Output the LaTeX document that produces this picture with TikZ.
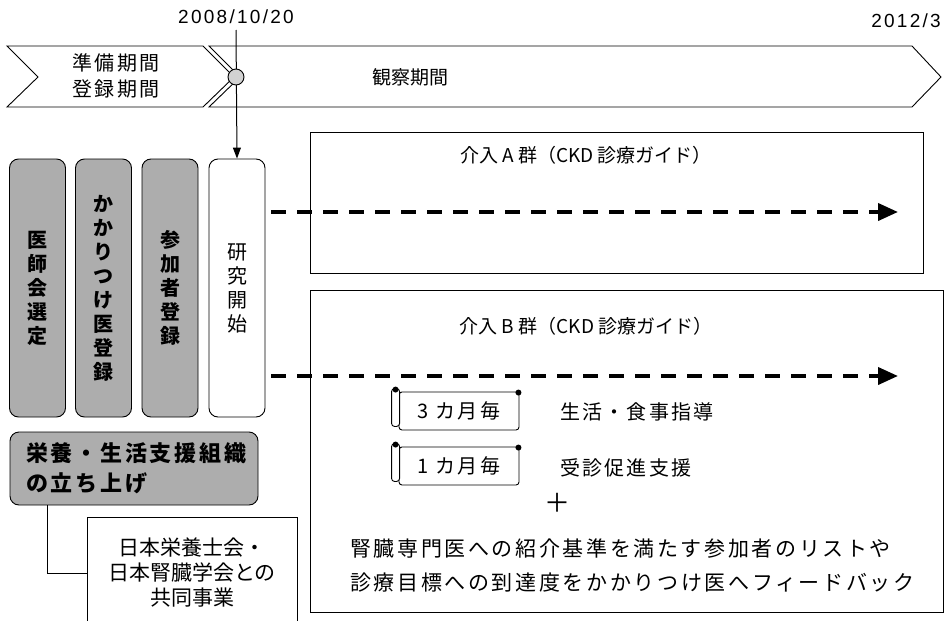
\documentclass[tikz,border=0pt]{standalone}
\usepackage{fontspec}
\setmainfont{Liberation Sans}
\newfontfamily\lat[LetterSpace=12]{Liberation Sans}
\newfontfamily\jp{Noto Sans CJK JP}
\newfontfamily\jpl[LetterSpace=12.5]{Noto Sans CJK JP}
\newfontfamily\jps[LetterSpace=11]{Noto Sans CJK JP}
\usetikzlibrary{arrows.meta,calc}
\definecolor{greyfill}{gray}{0.68}
\tikzset{
  band/.style={draw=black, line width=0.9pt, fill=white},
  vbox/.style={draw=black, line width=0.9pt, rounded corners=9pt, minimum width=56pt, minimum height=258pt, inner sep=0pt, align=center},
  greybox/.style={vbox, fill=greyfill, font=\jp\bfseries\fontsize{20}{24}\selectfont},
  whitebox/.style={vbox, fill=white, font=\jp\fontsize{20}{24}\selectfont},
  bigbox/.style={draw=black, line width=1pt, fill=none},
  dasharrow/.style={line width=3.8pt, dash pattern=on 15pt off 11pt, -{Triangle[length=20pt,width=17pt]}},
  scrollbox/.style={draw=black, line width=0.9pt, rounded corners=3pt, minimum width=120pt, minimum height=38pt, inner sep=0pt, font=\jps\fontsize{20}{22}\selectfont, fill=white},
  jptext/.style={font=\jp\fontsize{19}{22}\selectfont, inner sep=0pt},
}
\newcommand{\scrolldeco}[1]{%
  \draw[line width=0.9pt, fill=white, rounded corners=3pt] ($(#1.north west)+(-7,-3)$) rectangle ($(#1.south west)+(1,-4)$);
  \fill ($(#1.north west)+(-3,-2)$) circle (3pt);
  \fill ($(#1.north east)+(-1,1)$) circle (3pt);
}
\begin{document}
\begin{tikzpicture}[x=1pt,y=-1pt]
\useasboundingbox (0,0) rectangle (945,621);
% timeline bands
\draw[band] (209,46) -- (912,46) -- (941,77) -- (912,107) -- (209,107) -- (240,77) -- cycle;
\draw[band] (7,46) -- (203,46) -- (234,77) -- (203,107) -- (7,107) -- (38,77) -- cycle;
\node[font=\jps\fontsize{20}{26}\selectfont, align=center, inner sep=0pt] (prep) at (116,76) {準備期間\\登録期間};
\node[font=\jp\fontsize{19}{22}\selectfont, inner sep=0pt] (obs) at (410,77) {観察期間};
\node[font=\lat\fontsize{19}{20}\selectfont, inner sep=0pt] (d1) at (236,17) {2008/10/20};
\node[font=\lat\fontsize{19}{20}\selectfont, inner sep=0pt, anchor=east] (d2) at (941,21) {2012/3};
% vertical boxes
\node[greybox] (b1) at (37.5,288) {医\\師\\会\\選\\定};
\node[greybox] (b2) at (103.5,288) {か\\か\\り\\つ\\け\\医\\登\\録};
\node[greybox] (b3) at (170,288) {参\\加\\者\\登\\録};
\node[whitebox] (b4) at (237,288) {研\\究\\開\\始};
% start arrow
\coordinate (top) at (236,30);
\draw[line width=1pt, -{Triangle[length=11pt,width=8pt]}] (top) -- (b4.north);
\node[circle, draw=black, line width=0.9pt, fill=gray!35, minimum size=16pt, inner sep=0pt] (mark) at (236,77) {};
% group boxes
\node[bigbox, minimum width=613pt, minimum height=141pt, inner sep=0pt] (ga) at (616.5,202.5) {};
\node[bigbox, minimum width=633pt, minimum height=322pt, inner sep=0pt] (gb) at (626.5,451) {};
\node[jptext] (ta) at (586,155) {介入 A 群（CKD 診療ガイド）};
\node[jptext] (tb) at (586,326) {介入 B 群（CKD 診療ガイド）};
% dashed arrows
\coordinate (ea) at (898,212);
\coordinate (eb) at (898,376);
\draw[dasharrow] (b4.east |- ea) ++(6,0) -- (ea);
\draw[dasharrow] (b4.east |- eb) ++(6,0) -- (eb);
% scrolls
\node[scrollbox] (s1) at (459,411) {3 カ月毎};
\scrolldeco{s1}
\node[scrollbox] (s2) at (459,466) {1 カ月毎};
\scrolldeco{s2}
\node[font=\jps\fontsize{20}{22}\selectfont, inner sep=0pt, anchor=west] (l1) at (560,412) {生活・食事指導};
\node[font=\jps\fontsize{20}{22}\selectfont, inner sep=0pt, anchor=west] (l2) at (560,468) {受診促進支援};
\node[font=\jp\fontsize{26}{28}\selectfont, inner sep=0pt] (plus) at (557,503) {＋};
\node[font=\jpl\fontsize{21}{34}\selectfont, inner sep=0pt, align=left, anchor=west] (fb) at (350,565) {腎臓専門医への紹介基準を満たす参加者のリストや\\診療目標への到達度をかかりつけ医へフィードバック};
% bottom left
\node[draw=black, line width=0.9pt, fill=greyfill, rounded corners=9pt, minimum width=248pt, minimum height=73pt, inner sep=0pt] (org) at (134,468.5) {};
\node[font=\jpl\bfseries\fontsize{22}{30}\selectfont, inner sep=0pt, align=left, anchor=west] (orgt) at (26,468) {栄養・生活支援組織\\の立ち上げ};
\draw[line width=0.9pt, fill=white] (87,630) -- (87,517) -- (297,517) -- (297,630);
\node[font=\jp\fontsize{21}{25}\selectfont, inner sep=0pt, align=center] (joint) at (192,573) {日本栄養士会・\\日本腎臓学会との\\共同事業};
\draw[line width=0.9pt] (org.south -| 47,0) |- (joint.west -| 87,0);
\end{tikzpicture}
\end{document}
